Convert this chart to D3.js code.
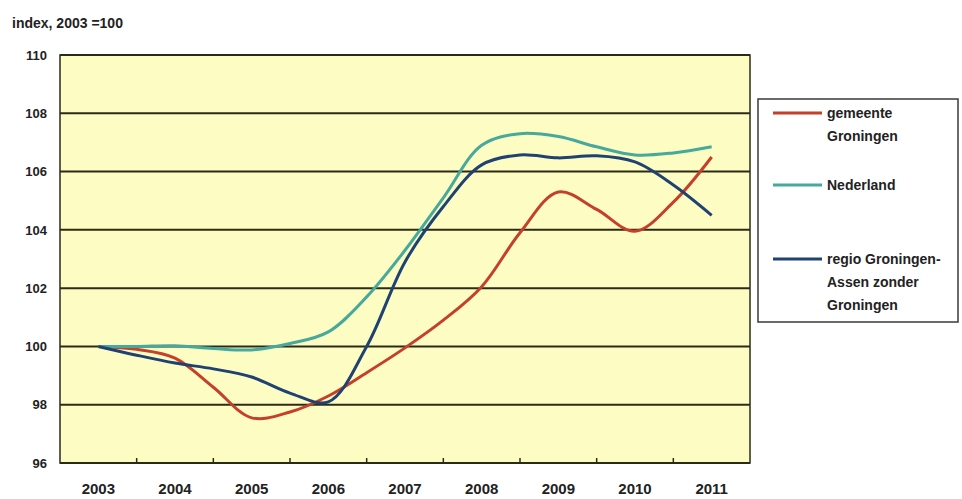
<!DOCTYPE html>
<html>
<head>
<meta charset="utf-8">
<script src="https://cdn.jsdelivr.net/npm/d3@7"></script>
<style>
  body { margin: 0; background: #fff; }
  text { font-family: "Liberation Sans", Arial, sans-serif; font-weight: bold; fill: #222; }
</style>
</head>
<body>
<script>
// tijdstippen (halfjaarlijks) en index-waarden
const tijd = [2003, 2003.5, 2004, 2004.5, 2005, 2005.5, 2006, 2006.5, 2007,
              2007.5, 2008, 2008.5, 2009, 2009.5, 2010, 2010.5, 2011];
const jaren = ["2003", "2004", "2005", "2006", "2007", "2008", "2009", "2010", "2011"];
const yTicks = [96, 98, 100, 102, 104, 106, 108, 110];

const gemeente  = [100, 99.9, 99.6, 98.6, 97.55, 97.75, 98.3, 99.1, 99.95,
                   100.9, 102.05, 103.9, 105.3, 104.7, 103.95, 104.95, 106.5];
const nederland = [100, 100.0, 100.02, 99.93, 99.88, 100.1, 100.5, 101.7, 103.3,
                   105.1, 106.9, 107.3, 107.2, 106.85, 106.57, 106.64, 106.85];
const regio     = [100, 99.7, 99.43, 99.23, 98.95, 98.4, 98.1, 100.0, 102.9,
                   104.8, 106.23, 106.57, 106.47, 106.54, 106.33, 105.54, 104.5];

const series = [
  { naam: ["gemeente", "Groningen"], waarden: gemeente, kleur: "#c4402b" },
  { naam: ["Nederland"], waarden: nederland, kleur: "#46a99b" },
  { naam: ["regio Groningen-", "Assen zonder", "Groningen"], waarden: regio, kleur: "#1f4272" }
];

const width = 962, height = 499;
const plot = { left: 60, right: 750, top: 55, bottom: 463 };

const svg = d3.select("body").append("svg")
  .attr("width", width)
  .attr("height", height);

const xBand = d3.scaleBand().domain(jaren).range([plot.left, plot.right]);
const x = d3.scaleLinear().domain([2002.5, 2011.5]).range([plot.left, plot.right]);
const y = d3.scaleLinear().domain([96, 110]).range([plot.bottom, plot.top]);

// achtergrond plotgebied
svg.append("rect")
  .attr("x", plot.left).attr("y", plot.top)
  .attr("width", plot.right - plot.left).attr("height", plot.bottom - plot.top)
  .attr("fill", "#fdfdc3");

// horizontale rasterlijnen
svg.append("g")
  .selectAll("line")
  .data(yTicks)
  .enter()
  .append("line")
  .attr("x1", plot.left).attr("x2", plot.right)
  .attr("y1", d => y(d)).attr("y2", d => y(d))
  .attr("stroke", "#2b2b18")
  .attr("stroke-width", 2);

// kader
svg.append("rect")
  .attr("x", plot.left).attr("y", plot.top)
  .attr("width", plot.right - plot.left).attr("height", plot.bottom - plot.top)
  .attr("fill", "none")
  .attr("stroke", "#2b2b18")
  .attr("stroke-width", 1.5);

// y-as
const yAxis = svg.append("g")
  .attr("transform", "translate(" + plot.left + ",0)")
  .call(d3.axisLeft(y).tickValues(yTicks).tickSize(0).tickPadding(13));
yAxis.select(".domain").remove();
yAxis.selectAll("text").attr("font-size", "13px");

// x-as: labels in het midden van elk jaar
const xAxis = svg.append("g")
  .attr("transform", "translate(0," + plot.bottom + ")")
  .call(d3.axisBottom(xBand).tickSize(0).tickPadding(20));
xAxis.select(".domain").remove();
xAxis.selectAll("text").attr("font-size", "15px");

// kleine streepjes tussen de jaren
svg.append("g")
  .selectAll("line")
  .data(jaren.slice(1))
  .enter()
  .append("line")
  .attr("x1", d => xBand(d)).attr("x2", d => xBand(d))
  .attr("y1", plot.bottom).attr("y2", plot.bottom - 5)
  .attr("stroke", "#2b2b18")
  .attr("stroke-width", 1.5);

// lijnen
const line = d3.line()
  .x((d, i) => x(tijd[i]))
  .y(d => y(d))
  .curve(d3.curveCatmullRom.alpha(0.5));

svg.append("g")
  .selectAll("path")
  .data(series)
  .enter()
  .append("path")
  .attr("d", d => line(d.waarden))
  .attr("fill", "none")
  .attr("stroke", d => d.kleur)
  .attr("stroke-width", 3)
  .attr("stroke-linejoin", "round");

// titel
svg.append("text")
  .attr("x", 12).attr("y", 23)
  .attr("dy", "0.35em")
  .attr("font-size", "14px")
  .text("index, 2003 =100");

// legenda
svg.append("rect")
  .attr("x", 758).attr("y", 99)
  .attr("width", 200).attr("height", 223)
  .attr("fill", "#fff")
  .attr("stroke", "#3a3a3a")
  .attr("stroke-width", 1.5);

const legendY = [113, 185, 259];
const leg = svg.append("g")
  .selectAll("g")
  .data(series)
  .enter()
  .append("g")
  .attr("transform", (d, i) => "translate(0," + legendY[i] + ")");

leg.append("line")
  .attr("x1", 773).attr("x2", 822)
  .attr("stroke", d => d.kleur)
  .attr("stroke-width", 3);

leg.each(function (d) {
  const g = d3.select(this);
  d.naam.forEach((regel, k) => {
    g.append("text")
      .attr("x", 827).attr("y", k * 23)
      .attr("dy", "0.35em")
      .attr("font-size", "14px")
      .text(regel);
  });
});
</script>
</body>
</html>
